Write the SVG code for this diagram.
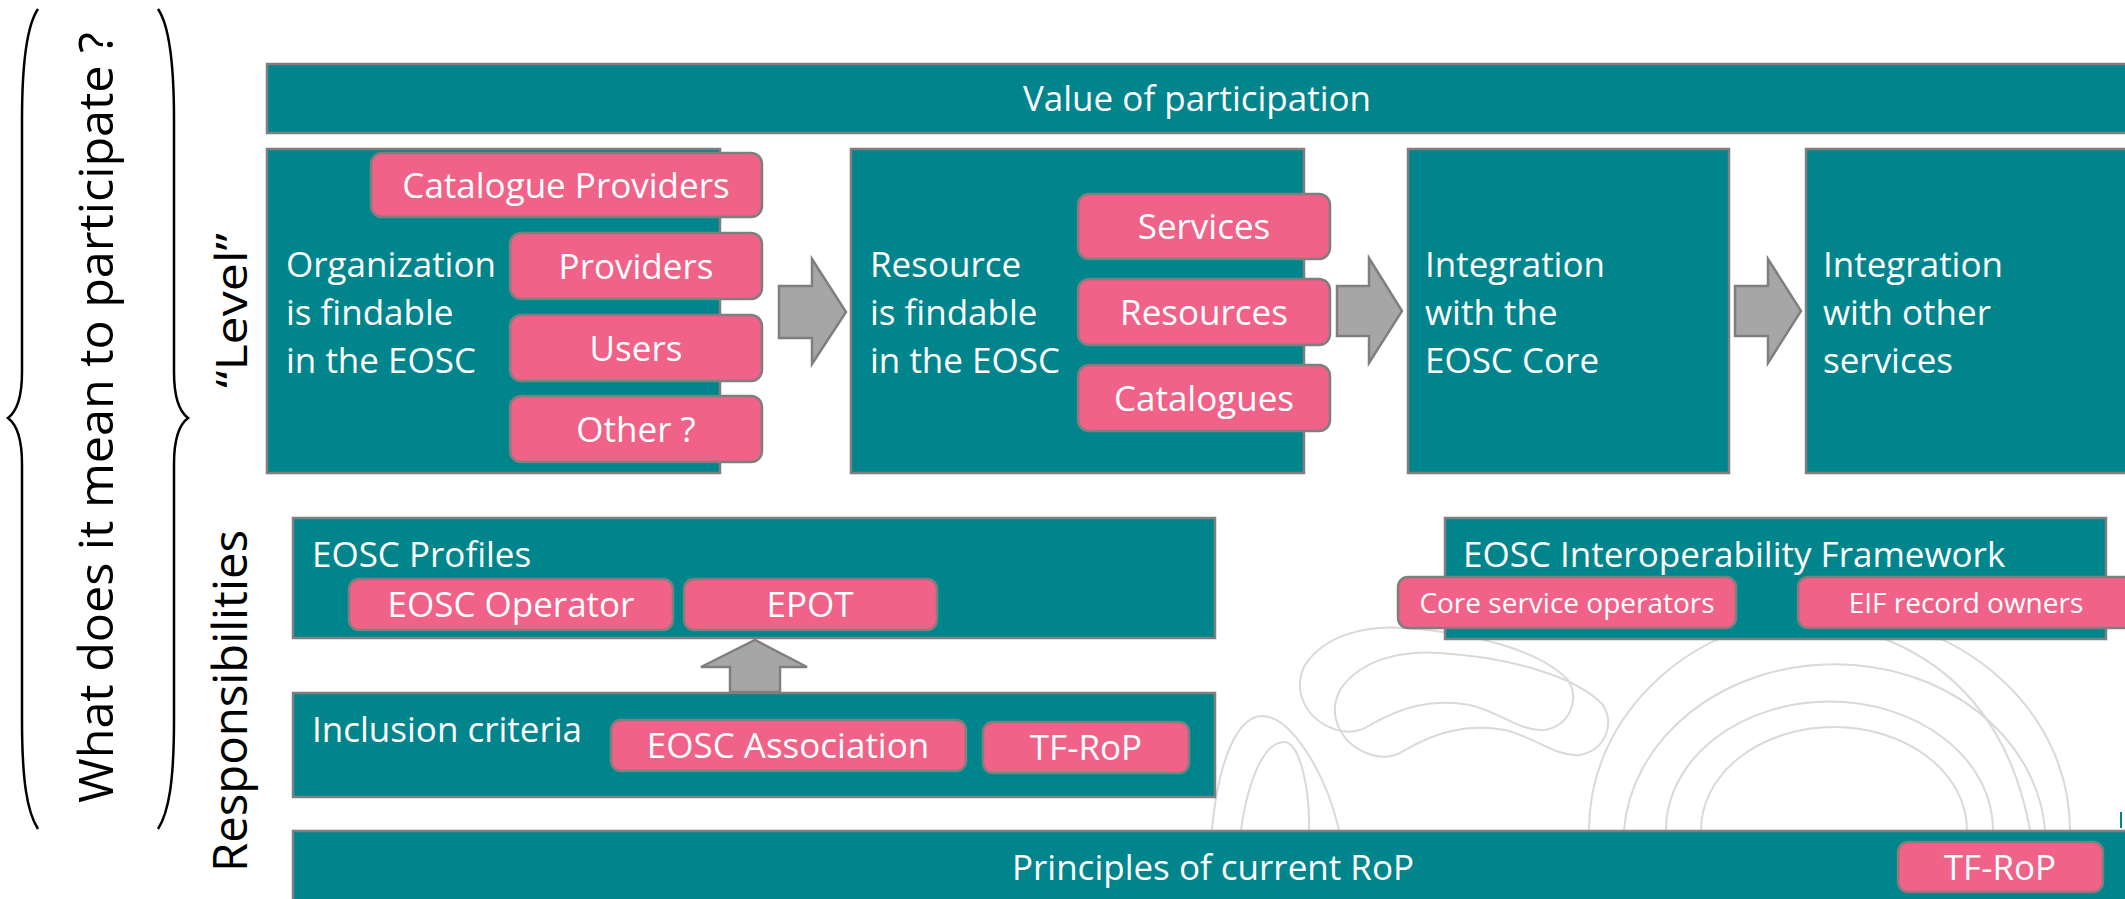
<svg xmlns="http://www.w3.org/2000/svg" width="2125" height="899" viewBox="0 0 2125 899">
<style>
.box{fill:#01858C;stroke:#7F7F7F;stroke-width:2.5}
.pill{fill:#F06287;stroke:#7F7F7F;stroke-width:2.5}
.t{font-family:'Open Sans','Noto Sans','Liberation Sans',sans-serif;fill:#FFFFFF;font-size:35px}
.c{text-anchor:middle}
.s{font-size:28px}
.lab{font-family:'Open Sans','Noto Sans','Liberation Sans',sans-serif;fill:#000000}
.arrow{fill:#A6A6A6;stroke:#7F7F7F;stroke-width:2.5;stroke-linejoin:miter}
.deco{fill:none;stroke:#D9D9D9;stroke-width:2}
.brace{fill:none;stroke:#000000;stroke-width:2.5}
</style>
<rect x="0" y="0" width="2125" height="899" fill="#FFFFFF"/>

<g id="background-art">
<path class="deco" d="M1212,830 C1218,760 1238,716 1262,716 C1290,716 1325,770 1339,830"/>
<path class="deco" d="M1241,830 C1248,780 1264,742 1284,742 C1300,742 1310,790 1309,830"/>
<path class="deco" d="M1337,730 C1305,720 1292,690 1305,665 C1325,635 1365,625 1405,628 C1470,632 1540,650 1568,680 C1580,700 1570,725 1545,730 C1520,732 1500,712 1470,705 C1430,698 1400,708 1370,725 C1360,732 1348,733 1337,730 Z"/>
<path class="deco" d="M1372,755 C1340,745 1327,715 1340,690 C1360,660 1400,650 1440,653 C1505,657 1575,675 1603,705 C1615,725 1605,750 1580,755 C1555,757 1535,737 1505,730 C1465,723 1435,733 1405,750 C1395,757 1383,758 1372,755 Z"/>
<path class="deco" d="M1589,830 A240,215 0 0 1 2070,830"/>
<path class="deco" d="M1624,830 A211,178 0 0 1 2045,830"/>
<path class="deco" d="M1666,830 A163,128 0 0 1 1993,830"/>
<path class="deco" d="M1701,830 A133,103 0 0 1 1967,830"/>
<path class="deco" d="M1885,639 C1950,665 2010,720 2030,830"/>
</g>

<g id="braces">
<path class="brace" d="M38,9 C27,25 22,60 22,120 L22,372 C22,400 16,412 8,418 C16,424 22,436 22,464 L22,720 C22,780 27,812 38,829"/>
<path class="brace" d="M158,9 C169,25 174,60 174,120 L174,372 C174,400 180,412 188,418 C180,424 174,436 174,464 L174,720 C174,780 169,812 158,829"/>
</g>

<g id="side-labels">
<text class="lab" font-size="48" transform="translate(113,803) rotate(-90)" textLength="771" lengthAdjust="spacingAndGlyphs">What does it mean to participate ?</text>
<text class="lab" font-size="44" transform="translate(247,388) rotate(-90)" textLength="155" lengthAdjust="spacingAndGlyphs">“Level”</text>
<text class="lab" font-size="47" transform="translate(247,872) rotate(-90)" textLength="342" lengthAdjust="spacingAndGlyphs">Responsibilities</text>
</g>

<g id="value-of-participation">
<rect class="box" x="267" y="64" width="1880" height="69"/>
<text class="t c" x="1197" y="111">Value of participation</text>
</g>

<g id="organization">
<rect class="box" x="267" y="149" width="453" height="324"/>
<text class="t" x="286" y="277">Organization</text>
<text class="t" x="286" y="325">is findable</text>
<text class="t" x="286" y="373">in the EOSC</text>
<rect class="pill" x="371" y="153" width="391" height="64" rx="11"/>
<text class="t c" x="566" y="198">Catalogue Providers</text>
<rect class="pill" x="510" y="233" width="252" height="66" rx="11"/>
<text class="t c" x="636" y="279">Providers</text>
<rect class="pill" x="510" y="315" width="252" height="66" rx="11"/>
<text class="t c" x="636" y="361">Users</text>
<rect class="pill" x="510" y="396" width="252" height="66" rx="11"/>
<text class="t c" x="636" y="442">Other ?</text>
</g>

<g id="resource">
<rect class="box" x="851" y="149" width="453" height="324"/>
<text class="t" x="870" y="277">Resource</text>
<text class="t" x="870" y="325">is findable</text>
<text class="t" x="870" y="373">in the EOSC</text>
<rect class="pill" x="1078" y="194" width="252" height="65" rx="11"/>
<text class="t c" x="1204" y="239">Services</text>
<rect class="pill" x="1078" y="279" width="252" height="66" rx="11"/>
<text class="t c" x="1204" y="325">Resources</text>
<rect class="pill" x="1078" y="365" width="252" height="66" rx="11"/>
<text class="t c" x="1204" y="411">Catalogues</text>
</g>

<g id="integration-core">
<rect class="box" x="1408" y="149" width="321" height="324"/>
<text class="t" x="1425" y="277">Integration</text>
<text class="t" x="1425" y="325">with the</text>
<text class="t" x="1425" y="373">EOSC Core</text>
</g>

<g id="integration-other">
<rect class="box" x="1806" y="149" width="340" height="324"/>
<text class="t" x="1823" y="277">Integration</text>
<text class="t" x="1823" y="325">with other</text>
<text class="t" x="1823" y="373">services</text>
</g>

<g id="eosc-profiles">
<rect class="box" x="293" y="518" width="922" height="120"/>
<text class="t" x="312" y="567">EOSC Profiles</text>
<rect class="pill" x="349" y="579" width="324" height="51" rx="10"/>
<text class="t c" x="511" y="617">EOSC Operator</text>
<rect class="pill" x="684" y="579" width="253" height="51" rx="10"/>
<text class="t c" x="810" y="617">EPOT</text>
</g>

<g id="inclusion-criteria">
<rect class="box" x="293" y="693" width="922" height="104"/>
<text class="t" x="312" y="742">Inclusion criteria</text>
<rect class="pill" x="611" y="720" width="355" height="51" rx="10"/>
<text class="t c" x="788" y="758">EOSC Association</text>
<rect class="pill" x="983" y="722" width="206" height="51" rx="10"/>
<text class="t c" x="1086" y="760">TF-RoP</text>
</g>

<g id="interoperability-framework">
<rect class="box" x="1445" y="518" width="661" height="121"/>
<text class="t" x="1463" y="567">EOSC Interoperability Framework</text>
<rect class="pill" x="1398" y="577" width="338" height="51" rx="10"/>
<text class="t c s" x="1567" y="613">Core service operators</text>
<rect class="pill" x="1798" y="577" width="340" height="51" rx="10"/>
<text class="t c s" x="1966" y="613">EIF record owners</text>
</g>

<g id="principles">
<rect class="box" x="293" y="831" width="1850" height="80"/>
<text class="t c" x="1213" y="880">Principles of current RoP</text>
<rect class="pill" x="1898" y="842" width="205" height="50" rx="10"/>
<text class="t c" x="2000" y="880">TF-RoP</text>
</g>

<g id="connectors">
<polygon class="arrow" points="779,286 812,286 812,259 846,312 812,364 812,338 779,338"/>
<polygon class="arrow" points="1337,286 1369,286 1369,258 1402,311 1369,363 1369,336 1337,336"/>
<polygon class="arrow" points="1735,286 1768,286 1768,259 1801,311 1768,363 1768,336 1735,336"/>
<polygon class="arrow" points="730,692 730,667 701,667 755,640 807,667 780,667 780,692"/>
</g>

<line x1="2121" y1="812" x2="2121" y2="828" stroke="#01858C" stroke-width="2"/>
</svg>
